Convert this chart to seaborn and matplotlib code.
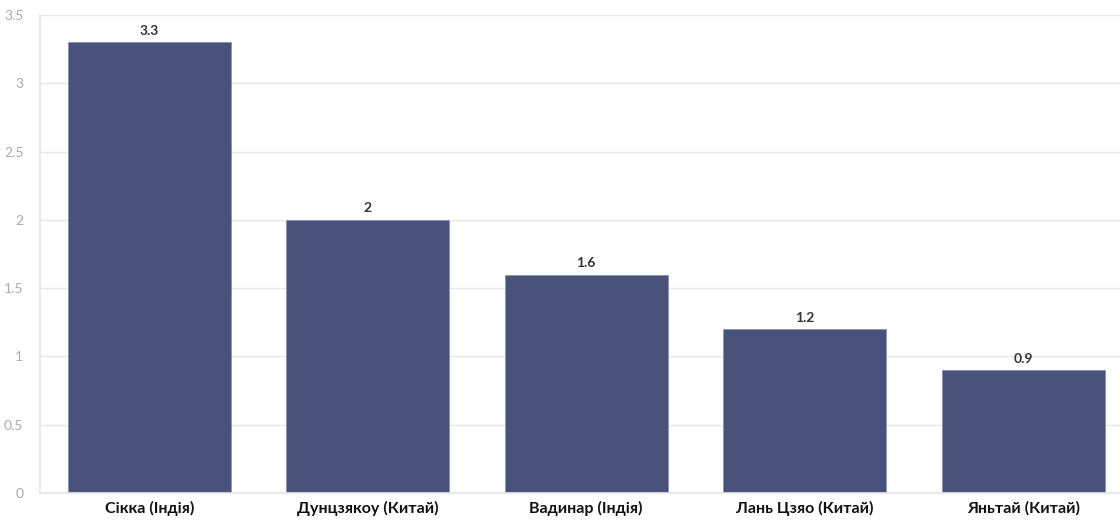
import matplotlib
matplotlib.use("Agg")
import matplotlib.pyplot as plt
import seaborn as sns

ports = ["Сікка (Індія)", "Дунцзякоу (Китай)", "Вадинар (Індія)",
         "Лань Цзяо (Китай)", "Яньтай (Китай)"]
values = [3.3, 2.0, 1.6, 1.2, 0.9]
value_labels = ["3.3", "2", "1.6", "1.2", "0.9"]
yticks = [0, 0.5, 1, 1.5, 2, 2.5, 3, 3.5]
ytick_labels = ["0", "0.5", "1", "1.5", "2", "2.5", "3", "3.5"]

sns.set_theme(style="whitegrid")
plt.rcParams["font.family"] = ["Lato", "DejaVu Sans"]

fig = plt.figure(figsize=(11.2, 5.2), dpi=100)
# the last category slot runs a little past the right edge, as in the reference
ax = fig.add_axes([0.0357, 0.052, 0.9754, 0.919])

sns.barplot(x=ports, y=values, color="#48527a", saturation=1, width=0.746,
            edgecolor="#8a93b5", linewidth=0.6, ax=ax)

for i, (v, lab) in enumerate(zip(values, value_labels)):
    ax.text(i, v + 0.04, lab, ha="center", va="bottom", fontsize=10,
            fontweight="bold", color="#333333")

ax.set_xlim(-0.5, 4.5)
ax.set_ylim(0, 3.5)
ax.set_yticks(yticks)
ax.set_yticklabels(ytick_labels)
ax.tick_params(axis="y", labelsize=10, labelcolor="#aaaaaa", length=0, pad=12)
ax.tick_params(axis="x", labelsize=11.5, labelcolor="#111111", length=4,
               color="#dddddd", width=1, pad=2)
for lab in ax.get_xticklabels():
    lab.set_fontweight("bold")
ax.grid(axis="y", color="#e6e6e6", linewidth=1)
ax.grid(axis="x", visible=False)
for side in ["top", "right"]:
    ax.spines[side].set_visible(False)
ax.spines["left"].set_color("#e6e6e6")
ax.spines["bottom"].set_color("#e6e6e6")
ax.set_xlabel("")
ax.set_ylabel("")
ax.set_facecolor("white")

fig.savefig("out.png", dpi=100, facecolor="white")
